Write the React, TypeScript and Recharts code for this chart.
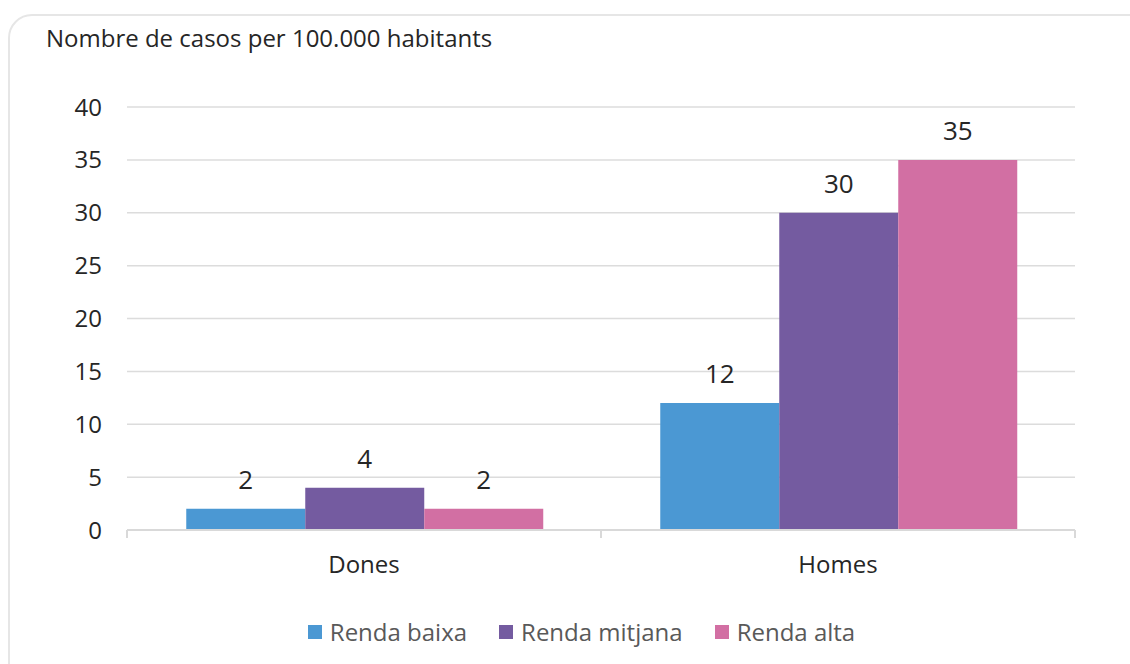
import React from "react";
import { BarChart, Bar, XAxis, YAxis, CartesianGrid, Legend, LabelList } from "recharts";

const categories = ["Dones", "Homes"];
const rendaBaixa = [2, 12];
const rendaMitjana = [4, 30];
const rendaAlta = [2, 35];
const yTicks = [0, 5, 10, 15, 20, 25, 30, 35, 40];
const seriesNames = ["Renda baixa", "Renda mitjana", "Renda alta"];
const colors = ["#4B98D3", "#745BA0", "#D26FA3"];
const title = "Nombre de casos per 100.000 habitants";

const data = categories.map((c, i) => ({
  name: c,
  baixa: rendaBaixa[i],
  mitjana: rendaMitjana[i],
  alta: rendaAlta[i],
}));

const FONT = "'Open Sans', sans-serif";
const TICK_SIZE = 6;
const TICK_MARGIN = 20;

const renderLegend = (props: any) => {
  const payload = [...(props.payload || [])].sort(
    (a: any, b: any) => seriesNames.indexOf(a.value) - seriesNames.indexOf(b.value)
  );
  return (
    <div
      style={{
        display: "flex",
        justifyContent: "center",
        fontFamily: FONT,
        fontSize: 24,
        color: "#595959",
        height: 34,
        lineHeight: "34px",
        paddingLeft: 88,
      }}
    >
      {payload.map((p: any, i: number) => (
        <div key={i} style={{ display: "flex", alignItems: "center", marginRight: i < payload.length - 1 ? 32 : 0 }}>
          <div style={{ width: 14, height: 14, background: p.color, marginRight: 8 }} />
          <span>{p.value}</span>
        </div>
      ))}
    </div>
  );
};

const CategoryTick = (props: any) => {
  const { x, y, payload } = props;
  const half = payload && typeof payload.offset === "number" ? payload.offset : 0;
  const axisY = y - TICK_SIZE - TICK_MARGIN;
  return (
    <g>
      {half > 0 && (
        <>
          <line x1={x - half} x2={x - half} y1={axisY} y2={axisY + 8} stroke="#d9d9d9" strokeWidth={2} />
          <line x1={x + half} x2={x + half} y1={axisY} y2={axisY + 8} stroke="#d9d9d9" strokeWidth={2} />
        </>
      )}
      <text
        x={x}
        y={y}
        dy="0.71em"
        textAnchor="middle"
        fontFamily={FONT}
        fontSize={24}
        fill="#262626"
      >
        {payload.value}
      </text>
    </g>
  );
};

export default function App() {
  return (
    <div style={{ position: "relative", width: 1130, height: 664, overflow: "hidden", background: "#fff" }}>
      <style>{`body{margin:0;overflow:hidden}`}</style>
      <div
        style={{
          position: "absolute",
          left: 8,
          top: 14,
          width: 1150,
          height: 680,
          border: "2px solid #e6e6e6",
          borderRadius: 24,
          boxSizing: "border-box",
        }}
      />
      <div
        style={{
          position: "absolute",
          left: 46,
          top: 23,
          fontFamily: FONT,
          fontSize: 24,
          color: "#262626",
          lineHeight: "30px",
          whiteSpace: "nowrap",
        }}
      >
        {title}
      </div>
      <div style={{ position: "absolute", left: 0, top: 0 }}>
        <BarChart
          width={1130}
          height={664}
          data={data}
          margin={{ top: 107, right: 55, left: 0, bottom: 15 }}
          barCategoryGap="12.5%"
          barGap={0}
        >
          <CartesianGrid vertical={false} stroke="#dcdcdc" strokeWidth={1.5} />
          <XAxis
            dataKey="name"
            height={85}
            axisLine={{ stroke: "#d9d9d9", strokeWidth: 2 }}
            tickLine={false}
            tickSize={TICK_SIZE}
            tickMargin={TICK_MARGIN}
            tick={<CategoryTick />}
          />
          <YAxis
            width={127}
            domain={[0, 40]}
            ticks={yTicks}
            axisLine={false}
            tickLine={false}
            tickSize={0}
            tickMargin={25}
            tick={{ fontFamily: FONT, fontSize: 24, fill: "#262626" }}
          />
          <Legend content={renderLegend} verticalAlign="bottom" />
          <Bar dataKey="baixa" name={seriesNames[0]} fill={colors[0]} isAnimationActive={false}>
            <LabelList dataKey="baixa" position="top" offset={20} style={{ fontFamily: FONT, fontSize: 26, fill: "#262626" }} />
          </Bar>
          <Bar dataKey="mitjana" name={seriesNames[1]} fill={colors[1]} isAnimationActive={false}>
            <LabelList dataKey="mitjana" position="top" offset={20} style={{ fontFamily: FONT, fontSize: 26, fill: "#262626" }} />
          </Bar>
          <Bar dataKey="alta" name={seriesNames[2]} fill={colors[2]} isAnimationActive={false}>
            <LabelList dataKey="alta" position="top" offset={20} style={{ fontFamily: FONT, fontSize: 26, fill: "#262626" }} />
          </Bar>
        </BarChart>
      </div>
    </div>
  );
}
